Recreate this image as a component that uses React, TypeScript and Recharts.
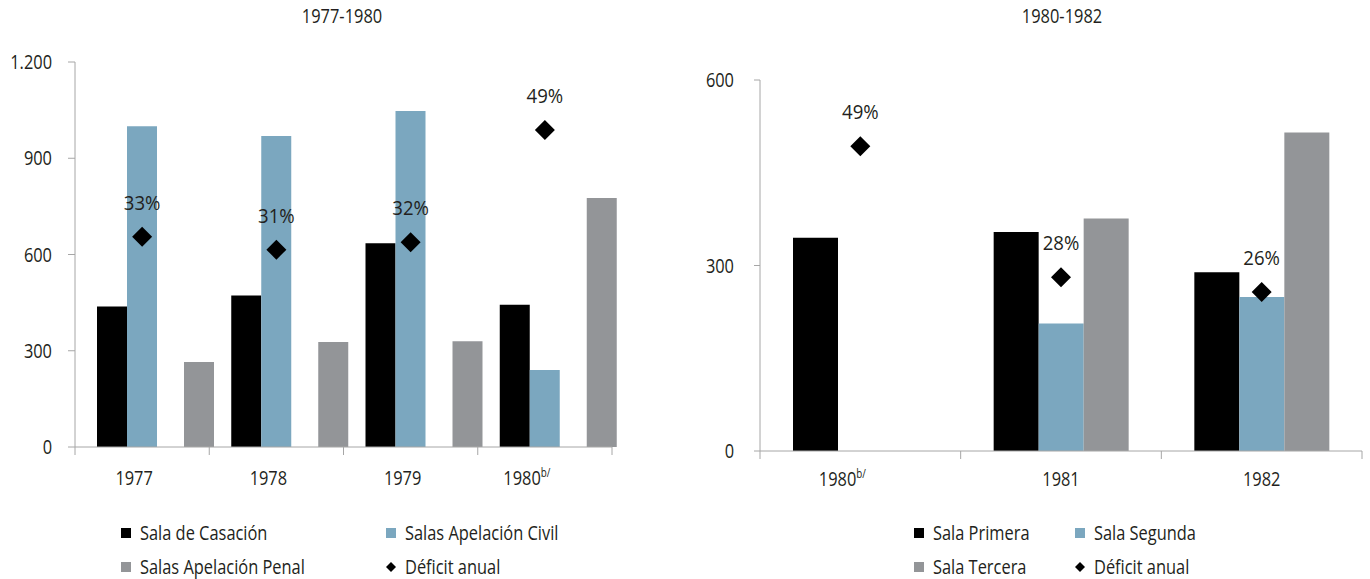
import React from "react";
import { ComposedChart, Bar, Scatter, XAxis, YAxis } from "recharts";

const FONT = "'Open Sans', 'DejaVu Sans Condensed', sans-serif";
const SX = 0.82; // horizontal squeeze to imitate the condensed face of the original
const TEXT = "#231f20";
const AXIS = "#a6a6a6";
const BLACK = "#000000";
const BLUE = "#7ba7bf";
const GRAY = "#939598";

// 1977-1980
const years7780 = ["1977", "1978", "1979", "1980b/"];
const casacion = [438, 472, 635, 443];
const apelacionCivil = [1000, 969, 1047, 240];
const apelacionPenal = [265, 327, 330, 776];
const deficit7780 = [655, 615, 638, 988];
const deficitPct7780 = ["33%", "31%", "32%", "49%"];
const yTicks7780 = [0, 300, 600, 900, 1200];

// 1980-1982
const years8082 = ["1980b/", "1981", "1982"];
const primera = [345, 354, 289];
const segunda = [null, 206, 249];
const tercera = [null, 376, 515];
const deficit8082 = [493, 281, 257];
const deficitPct8082 = ["49%", "28%", "26%"];
const yTicks8082 = [0, 300, 600];

const data7780 = years7780.map((year, i) => ({
  year,
  casacion: casacion[i],
  civil: apelacionCivil[i],
  penal: apelacionPenal[i],
  deficit: deficit7780[i],
  pct: deficitPct7780[i],
}));

const data8082 = years8082.map((year, i) => ({
  year,
  primera: primera[i],
  segunda: segunda[i],
  tercera: tercera[i],
  deficit: deficit8082[i],
  pct: deficitPct8082[i],
}));

const fmt = (v: number) => v.toLocaleString("de-DE");

const SText = ({ x, y, anchor = "middle", sx = SX, children }: any) => (
  <text
    transform={`translate(${x},${y}) scale(${sx},1)`}
    x={0}
    y={0}
    dy="0.355em"
    textAnchor={anchor}
    fill={TEXT}
    fontSize={20}
    fontFamily={FONT}
  >
    {children}
  </text>
);

// year label at the band centre, tick marks at the band edges (Excel style)
const makeYearTick = (shift: number, supShift: number, count: number, margin: number) => (props: any) => {
  const { x, y, payload, index } = props;
  const value = String(payload.value);
  const hasSup = value.endsWith("b/");
  const main = value.replace("b/", "");
  const half = payload.offset ?? 0;
  const axisY = y - margin;
  return (
    <g>
      {half > 0 && <line x1={x - half} x2={x - half} y1={axisY} y2={axisY + 8} stroke={AXIS} />}
      {half > 0 && index === count - 1 && (
        <line x1={x + half} x2={x + half} y1={axisY} y2={axisY + 8} stroke={AXIS} />
      )}
      <SText x={x + shift + (hasSup ? supShift : 0)} y={y}>
        {main}
        {hasSup && (
          <tspan fontSize={12} dy={-8}>
            b/
          </tspan>
        )}
      </SText>
    </g>
  );
};

const YTick = (props: any) => (
  <SText x={props.x} y={props.y} anchor="end">
    {fmt(props.payload.value)}
  </SText>
);

const Diamond = (props: any) => {
  const { cx, cy, payload } = props;
  if (cx == null || cy == null) return null;
  const r = 10;
  return (
    <g>
      <polygon
        points={`${cx},${cy - r} ${cx + r},${cy} ${cx},${cy + r} ${cx - r},${cy}`}
        fill={BLACK}
      />
      <SText x={cx} y={cy - 34} sx={0.93}>
        {payload.pct}
      </SText>
    </g>
  );
};

function Chart7780() {
  return (
    <ComposedChart
      width={685}
      height={579}
      data={data7780}
      margin={{ top: 62, right: 73, bottom: 91, left: 15 }}
      barGap={0}
    >
      <XAxis
        xAxisId="lbl"
        dataKey="year"
        height={41}
        axisLine={{ stroke: AXIS }}
        tickLine={false}
        tickSize={0}
        tickMargin={31}
        interval={0}
        tick={makeYearTick(-8, -10, years7780.length, 31)}
      />
      <XAxis
        xAxisId="shift"
        dataKey="year"
        hide
        height={0}
        padding={{ left: 57, right: -57 }}
      />
      <YAxis
        width={60}
        domain={[0, 1200]}
        ticks={yTicks7780}
        interval={0}
        tick={YTick}
        tickSize={7}
        tickMargin={16}
        axisLine={{ stroke: AXIS }}
        tickLine={{ stroke: AXIS }}
      />
      <Bar xAxisId="lbl" dataKey="casacion" fill={BLACK} barSize={30} isAnimationActive={false} />
      <Bar xAxisId="lbl" dataKey="civil" fill={BLUE} barSize={30} isAnimationActive={false} />
      <Bar xAxisId="lbl" dataKey="slot" fill="none" barSize={30} isAnimationActive={false} />
      <Bar xAxisId="shift" dataKey="penal" fill={GRAY} barSize={30} isAnimationActive={false} />
      <Scatter xAxisId="lbl" dataKey="deficit" shape={Diamond} isAnimationActive={false} />
    </ComposedChart>
  );
}

function Chart8082() {
  return (
    <ComposedChart
      width={685}
      height={579}
      data={data8082}
      margin={{ top: 80, right: 8, bottom: 87, left: 15 }}
      barGap={0}
    >
      <XAxis
        xAxisId="lbl"
        dataKey="year"
        height={41}
        axisLine={{ stroke: AXIS }}
        tickLine={false}
        tickSize={0}
        tickMargin={28}
        interval={0}
        tick={makeYearTick(0, -18, years8082.length, 28)}
      />
      <YAxis
        width={60}
        domain={[0, 600]}
        ticks={yTicks8082}
        interval={0}
        tick={YTick}
        tickSize={6}
        tickMargin={20}
        axisLine={{ stroke: AXIS }}
        tickLine={{ stroke: AXIS }}
      />
      <Bar xAxisId="lbl" dataKey="primera" fill={BLACK} barSize={45} isAnimationActive={false} />
      <Bar xAxisId="lbl" dataKey="segunda" fill={BLUE} barSize={45} isAnimationActive={false} />
      <Bar xAxisId="lbl" dataKey="tercera" fill={GRAY} barSize={45} isAnimationActive={false} />
      <Scatter xAxisId="lbl" dataKey="deficit" shape={Diamond} isAnimationActive={false} />
    </ComposedChart>
  );
}

type LegendItem = { label: string; color: string; kind: "square" | "diamond"; x: number; y: number };

const legend7780: LegendItem[] = [
  { label: "Sala de Casación", color: BLACK, kind: "square", x: 121, y: 533 },
  { label: "Salas Apelación Civil", color: BLUE, kind: "square", x: 386, y: 533 },
  { label: "Salas Apelación Penal", color: GRAY, kind: "square", x: 121, y: 567 },
  { label: "Déficit anual", color: BLACK, kind: "diamond", x: 386, y: 567 },
];

const legend8082: LegendItem[] = [
  { label: "Sala Primera", color: BLACK, kind: "square", x: 914, y: 533 },
  { label: "Sala Segunda", color: BLUE, kind: "square", x: 1075, y: 533 },
  { label: "Sala Tercera", color: GRAY, kind: "square", x: 914, y: 567 },
  { label: "Déficit anual", color: BLACK, kind: "diamond", x: 1075, y: 567 },
];

function Legend({ items }: { items: LegendItem[] }) {
  return (
    <>
      {items.map((it) => (
        <div
          key={it.label + it.x}
          style={{
            position: "absolute",
            left: it.x,
            top: it.y - 11,
            height: 22,
            lineHeight: "22px",
            display: "flex",
            alignItems: "center",
            fontSize: 20,
            whiteSpace: "nowrap",
          }}
        >
          <svg width={10} height={10} style={{ marginRight: 9 }}>
            {it.kind === "square" ? (
              <rect width={10} height={10} fill={it.color} />
            ) : (
              <polygon points="5,0 10,5 5,10 0,5" fill={it.color} />
            )}
          </svg>
          <span style={{ display: "inline-block", transform: `scaleX(${SX})`, transformOrigin: "left center" }}>
            {it.label}
          </span>
        </div>
      ))}
    </>
  );
}

const titleStyle: React.CSSProperties = {
  position: "absolute",
  width: 200,
  top: 2,
  textAlign: "center",
  fontSize: 20,
  transform: `scaleX(${SX})`,
};

export default function App() {
  return (
    <div
      style={{
        position: "absolute",
        left: 0,
        top: 0,
        width: 1370,
        height: 579,
        background: "#fff",
        fontFamily: FONT,
        color: TEXT,
        overflow: "hidden",
      }}
    >
      <div style={{ position: "absolute", left: 0, top: 0 }}>
        <Chart7780 />
      </div>
      <div style={{ position: "absolute", left: 685, top: 0 }}>
        <Chart8082 />
      </div>
      <div style={{ ...titleStyle, left: 242 }}>1977-1980</div>
      <div style={{ ...titleStyle, left: 962 }}>1980-1982</div>
      <Legend items={legend7780} />
      <Legend items={legend8082} />
    </div>
  );
}
